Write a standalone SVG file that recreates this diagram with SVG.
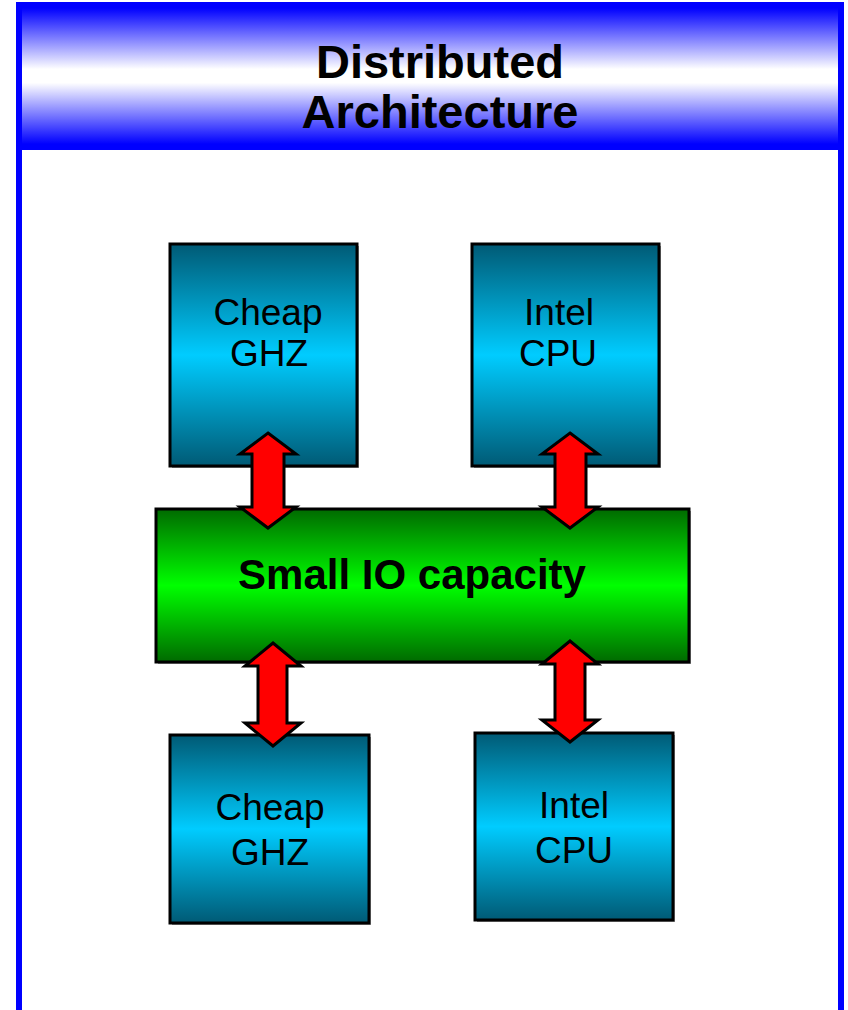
<svg xmlns="http://www.w3.org/2000/svg" width="848" height="1010" viewBox="0 0 848 1010">
<defs>
<linearGradient id="hdr" x1="0" y1="0" x2="0" y2="1">
<stop offset="0" stop-color="#0000ff"/>
<stop offset="0.45" stop-color="#ffffff"/>
<stop offset="0.55" stop-color="#ffffff"/>
<stop offset="1" stop-color="#0000ff"/>
</linearGradient>
<linearGradient id="teal" x1="0" y1="0" x2="0" y2="1">
<stop offset="0" stop-color="#005a75"/>
<stop offset="0.5" stop-color="#00ccff"/>
<stop offset="1" stop-color="#005a75"/>
</linearGradient>
<linearGradient id="green" x1="0" y1="0" x2="0" y2="1">
<stop offset="0" stop-color="#006a00"/>
<stop offset="0.5" stop-color="#00ff00"/>
<stop offset="1" stop-color="#006a00"/>
</linearGradient>
</defs>
<style>
.box{stroke:#000;stroke-width:3}
.shadow{fill:#999}
.t{font-family:"Liberation Sans",Arial,sans-serif;font-size:37px;fill:#000;text-anchor:middle}
.b{font-weight:bold}
.arrow{fill:#ff0000;stroke:#000;stroke-width:3;stroke-linejoin:miter}
</style>
<rect width="848" height="1010" fill="#ffffff"/>
<g id="frame">
<rect x="22" y="8" width="816" height="136" fill="url(#hdr)"/>
<path d="M19,1012 V5 H841 V1012" fill="none" stroke="#0000ff" stroke-width="6"/>
<line x1="19" y1="147" x2="841" y2="147" stroke="#0000ff" stroke-width="6"/>
<text class="t b" x="440" y="78" style="font-size:47px">Distributed</text>
<text class="t b" x="440" y="128" style="font-size:47px">Architecture</text>
</g>
<g id="node-cheap-top">
<rect class="shadow" x="172" y="246" width="187" height="222"/>
<rect class="box" x="170" y="244" width="187" height="222" fill="url(#teal)"/>
<text class="t" x="268" y="325">Cheap</text>
<text class="t" x="269" y="366">GHZ</text>
</g>
<g id="node-intel-top">
<rect class="shadow" x="474" y="246" width="187" height="222"/>
<rect class="box" x="472" y="244" width="187" height="222" fill="url(#teal)"/>
<text class="t" x="559" y="325">Intel</text>
<text class="t" x="558" y="366">CPU</text>
</g>
<g id="node-io">
<rect class="shadow" x="158" y="511" width="533" height="153"/>
<rect class="box" x="156" y="509" width="533" height="153" fill="url(#green)"/>
<text class="t b" x="412" y="589" style="font-size:42px">Small IO capacity</text>
</g>
<g id="node-cheap-bottom">
<rect class="shadow" x="172" y="737" width="199" height="188"/>
<rect class="box" x="170" y="735" width="199" height="188" fill="url(#teal)"/>
<text class="t" x="270" y="820">Cheap</text>
<text class="t" x="270" y="865">GHZ</text>
</g>
<g id="node-intel-bottom">
<rect class="shadow" x="477" y="735" width="198" height="187"/>
<rect class="box" x="475" y="733" width="198" height="187" fill="url(#teal)"/>
<text class="t" x="574" y="818">Intel</text>
<text class="t" x="574" y="863">CPU</text>
</g>
<g id="connectors">
<polygon class="arrow" points="268,433 296,454 284,454 284,507 296,507 268,528 240,507 252,507 252,454 240,454"/>
<polygon class="arrow" points="570,433 598,454 586,454 586,507 598,507 570,528 542,507 555,507 555,454 542,454"/>
<polygon class="arrow" points="273,643 301,666 287,666 287,723 301,723 273,746 245,723 258,723 258,666 245,666"/>
<polygon class="arrow" points="570,641 598,664 585,664 585,720 598,720 570,742 542,720 555,720 555,664 542,664"/>
</g>
</svg>
